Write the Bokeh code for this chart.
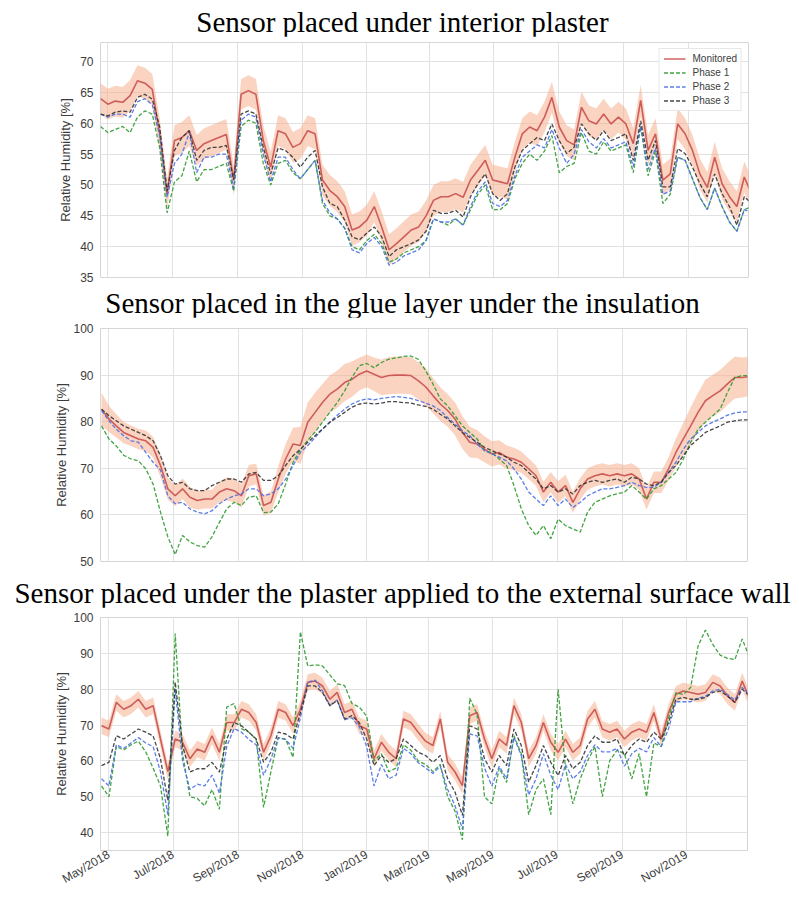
import numpy as np
import pandas as pd
from math import pi
from bokeh.plotting import figure
from bokeh.models import FixedTicker, Div, Range1d
from bokeh.layouts import column
from bokeh.embed import file_html
from bokeh.resources import INLINE

# ---------------- data ----------------
start_date = "2018-04-24"
n_samples = 89
sample_dates = pd.date_range(start_date, periods=n_samples, freq="7D")

tick_dates = ["2018-05-01", "2018-07-01", "2018-09-01", "2018-11-01", "2019-01-01",
              "2019-03-01", "2019-05-01", "2019-07-01", "2019-09-01", "2019-11-01"]
tick_labels = ["May/2018", "Jul/2018", "Sep/2018", "Nov/2018", "Jan/2019",
               "Mar/2019", "May/2019", "Jul/2019", "Sep/2019", "Nov/2019"]

titles = ["Sensor placed under interior plaster",
          "Sensor placed in the glue layer under the insulation",
          "Sensor placed under the plaster applied to the external surface wall"]
series_names = ["Monitored", "Phase 1", "Phase 2", "Phase 3"]
y_label = "Relative Humidity [%]"

p1_yticks = [35, 40, 45, 50, 55, 60, 65, 70]
p2_yticks = [50, 60, 70, 80, 90, 100]
p3_yticks = [40, 50, 60, 70, 80, 90, 100]

# Panel 1 - under interior plaster
p1_monitored = [64.0, 63.1, 63.6, 63.4, 64.5, 66.9, 66.5, 65.5, 58.3, 48.5, 57.2, 57.7, 58.8, 55.6, 56.7,
                57.2, 57.7, 58.2, 50.8, 64.7, 65.3, 64.7, 57.2, 52.9, 58.8, 58.3, 56.1, 56.7, 58.8, 58.3,
                50.8, 49.1, 48.1, 46.5, 42.7, 43.2, 44.3, 46.5, 43.2, 39.5, 40.5, 41.6, 42.7, 43.2, 45.0,
                47.5, 48.1, 48.1, 48.6, 48.0, 50.8, 52.4, 54.0, 50.8, 50.5, 50.2, 54.5, 58.3, 59.4, 58.8,
                61.0, 64.2, 59.4, 57.2, 56.5, 62.6, 60.4, 59.9, 61.5, 59.9, 61.0, 59.9, 56.7, 63.7, 55.6,
                58.3, 50.8, 51.8, 59.9, 58.3, 55.6, 51.8, 49.6, 54.5, 50.2, 48.1, 46.5, 51.3, 48.5]
p1_phase1 = [59.5, 58.5, 59.0, 59.5, 58.5, 61.0, 62.0, 61.5, 56.0, 45.5, 50.5, 51.5, 55.5, 50.5, 52.5,
             52.5, 53.0, 53.5, 49.0, 59.5, 60.5, 60.0, 53.5, 50.0, 53.5, 54.0, 52.0, 51.0, 52.5, 54.0,
             47.0, 45.0, 44.5, 43.0, 40.0, 39.5, 41.0, 42.0, 40.5, 37.5, 38.0, 39.0, 39.5, 40.0, 41.0,
             44.5, 44.0, 43.5, 44.5, 43.5, 46.0, 48.5, 50.0, 46.0, 46.0, 47.0, 51.0, 53.5, 55.0, 54.0,
             55.5, 58.0, 52.0, 53.0, 53.5, 58.5, 55.5, 55.0, 57.0, 55.5, 56.0, 56.5, 52.0, 59.5, 51.5,
             55.5, 47.0, 48.5, 54.5, 54.0, 51.0, 48.0, 46.0, 49.5, 46.5, 44.0, 42.5, 46.0, 46.5]
p1_phase2 = [61.5, 61.0, 61.5, 61.5, 61.0, 63.5, 64.0, 63.0, 58.0, 48.0, 53.5, 55.0, 58.5, 52.0, 54.5,
             54.5, 55.0, 55.0, 49.5, 60.5, 61.5, 61.0, 55.0, 50.5, 54.5, 54.5, 52.5, 51.0, 52.5, 54.0,
             47.5, 45.5, 44.5, 43.0, 39.5, 39.0, 40.5, 41.5, 40.0, 37.0, 37.5, 38.5, 39.0, 39.5, 41.0,
             44.5, 44.0, 44.0, 44.5, 43.5, 46.5, 49.0, 50.5, 47.0, 46.5, 47.5, 51.5, 54.5, 55.5, 56.5,
             56.0, 59.0, 56.0, 53.5, 55.0, 59.0, 57.0, 56.0, 57.5, 56.0, 56.5, 57.0, 53.0, 59.5, 52.5,
             56.0, 48.5, 49.0, 54.5, 54.0, 51.0, 48.0, 46.0, 49.5, 46.5, 44.0, 42.5, 46.0, 45.5]
p1_phase3 = [61.5, 61.2, 61.8, 62.0, 61.8, 64.2, 64.7, 63.9, 59.4, 49.0, 55.6, 57.7, 58.8, 54.0, 55.6,
             56.1, 56.1, 56.4, 50.8, 61.5, 62.0, 61.5, 56.1, 51.8, 56.0, 55.6, 54.5, 52.9, 54.5, 55.6,
             49.7, 47.0, 46.5, 44.3, 41.6, 41.1, 42.2, 43.2, 41.6, 38.4, 39.5, 40.0, 40.5, 41.1, 42.5,
             45.9, 45.4, 45.4, 45.9, 44.8, 48.1, 50.2, 51.8, 48.6, 47.5, 48.6, 52.9, 55.6, 56.7, 57.7,
             57.2, 59.9, 57.2, 55.1, 56.1, 59.9, 58.3, 57.2, 58.8, 57.2, 57.7, 58.3, 54.0, 60.4, 54.0,
             57.2, 49.7, 49.7, 55.9, 55.1, 52.9, 50.2, 48.1, 51.8, 48.6, 46.5, 43.5, 48.1, 47.0]
p1_band = 2.5

# Panel 2 - glue layer under the insulation
p2_monitored = [82.7, 80.6, 79.1, 77.7, 77.0, 76.3, 75.9, 74.5, 70.6, 65.6, 64.1, 65.6, 63.8, 63.1, 63.4,
                63.4, 64.9, 65.6, 65.2, 64.1, 68.4, 68.8, 62.0, 62.7, 67.7, 72.0, 75.2, 74.9, 79.9, 82.0,
                84.1, 85.9, 87.0, 88.4, 89.1, 90.2, 90.9, 90.2, 89.5, 89.9, 90.0, 90.0, 89.9, 88.8, 87.5,
                85.6, 83.8, 82.4, 80.6, 77.7, 75.6, 75.2, 74.1, 73.1, 73.4, 72.4, 72.0, 71.3, 69.9, 68.4,
                64.9, 67.0, 64.9, 66.3, 62.7, 65.6, 67.7, 68.4, 68.8, 68.4, 68.8, 68.4, 68.8, 67.7, 63.4,
                67.0, 67.0, 69.9, 73.4, 76.3, 79.1, 82.0, 84.5, 85.6, 86.6, 88.1, 89.5, 89.5, 89.7]
p2_phase1 = [79.1, 76.3, 74.8, 72.8, 72.0, 71.6, 69.9, 66.6, 60.6, 55.3, 51.5, 55.6, 54.2, 53.4, 53.1,
             55.3, 58.4, 61.3, 62.7, 62.0, 63.8, 64.1, 60.5, 60.6, 62.4, 66.6, 71.3, 74.0, 76.0, 77.8,
             79.9, 82.0, 84.1, 86.6, 89.5, 92.0, 92.5, 91.6, 92.7, 93.4, 93.7, 94.0, 94.1, 93.4, 91.0,
             88.1, 84.9, 83.4, 81.3, 79.1, 77.7, 76.3, 73.8, 73.4, 72.0, 70.6, 66.3, 61.3, 57.7, 55.6,
             57.7, 54.9, 59.1, 57.7, 57.0, 56.3, 60.6, 62.7, 63.4, 64.1, 64.5, 64.9, 66.3, 64.9, 63.4,
             65.6, 66.3, 67.7, 69.1, 72.0, 75.6, 78.4, 79.9, 81.3, 82.7, 86.3, 89.5, 89.9, 89.9]
p2_phase2 = [82.4, 80.2, 78.4, 77.0, 75.9, 75.6, 73.4, 71.3, 69.6, 64.1, 62.4, 62.7, 61.3, 60.6, 60.2,
             60.9, 62.4, 63.4, 64.1, 64.5, 65.6, 65.6, 64.1, 64.5, 65.6, 67.7, 70.6, 73.4, 74.9, 76.6,
             78.4, 79.9, 81.4, 82.7, 83.8, 84.5, 84.9, 84.7, 85.0, 85.2, 85.4, 85.2, 85.0, 84.5, 84.0,
             83.4, 82.4, 80.9, 79.5, 78.1, 77.0, 75.2, 73.8, 73.1, 72.4, 71.6, 69.9, 67.7, 64.9, 63.4,
             62.0, 64.1, 62.0, 63.4, 61.6, 62.7, 64.1, 64.9, 65.6, 65.6, 65.9, 66.3, 67.0, 66.3, 65.9,
             65.9, 67.0, 69.1, 71.3, 74.1, 76.3, 77.7, 79.1, 79.9, 80.6, 81.4, 81.9, 82.1, 82.1]
p2_phase3 = [82.7, 81.3, 80.2, 79.1, 78.4, 77.7, 77.0, 75.9, 72.7, 68.4, 66.6, 67.0, 65.6, 65.2, 65.2,
             66.3, 67.0, 67.7, 67.7, 67.0, 68.8, 69.1, 67.4, 67.4, 68.4, 70.6, 72.7, 74.1, 75.6, 77.0,
             78.4, 79.9, 80.9, 82.0, 83.1, 83.8, 84.0, 83.8, 84.0, 84.3, 84.3, 84.1, 84.0, 83.6, 83.3,
             82.7, 81.6, 80.6, 79.1, 77.7, 76.6, 75.6, 74.5, 73.8, 73.1, 72.4, 71.3, 70.6, 69.1, 67.7,
             65.6, 66.3, 64.9, 65.6, 64.5, 66.3, 67.0, 67.4, 67.0, 67.4, 67.7, 67.0, 68.1, 67.7, 66.6,
             66.3, 67.0, 69.1, 70.6, 72.7, 74.9, 76.3, 77.7, 78.4, 79.1, 79.9, 80.2, 80.4, 80.4]
p2_band = [3.5, 2.8, 2.5, 2.3, 2.2, 2.2, 2.2, 2.2, 2.5, 2.3, 2.2, 2.2, 2.2, 2.0, 2.0,
           2.0, 2.2, 2.5, 2.5, 2.5, 2.3, 2.2, 2.2, 2.3, 2.8, 3.2, 3.5, 4.0, 4.2, 4.2,
           4.0, 4.0, 4.0, 4.0, 3.8, 3.5, 3.5, 3.6, 3.8, 4.0, 4.0, 4.0, 4.0, 4.0, 4.0,
           3.8, 3.6, 3.5, 3.5, 3.5, 3.3, 3.0, 2.8, 2.7, 2.6, 2.5, 2.4, 2.3, 2.2, 2.2,
           2.2, 2.2, 2.3, 2.3, 2.3, 2.3, 2.3, 2.3, 2.3, 2.3, 2.3, 2.3, 2.3, 2.3, 2.3,
           2.3, 2.3, 2.5, 3.0, 3.5, 4.0, 4.2, 4.5, 4.5, 4.5, 4.5, 4.5, 4.3, 4.2]

# Panel 3 - under the external plaster
p3_monitored = [69.8, 68.9, 76.3, 74.4, 75.4, 77.2, 74.4, 75.4, 66.1, 57.0, 66.1, 65.2, 60.6, 63.3, 62.4,
                67.0, 62.4, 70.7, 70.7, 74.4, 73.5, 70.7, 62.4, 67.0, 74.4, 73.5, 69.8, 74.4, 81.9, 82.3,
                80.9, 77.2, 79.1, 73.5, 74.4, 69.8, 68.9, 60.6, 65.2, 62.4, 60.6, 71.7, 70.7, 68.0, 65.5,
                64.3, 71.7, 59.6, 56.9, 53.1, 72.6, 73.5, 66.1, 60.6, 66.1, 64.3, 75.4, 70.7, 60.6, 64.3,
                70.7, 65.2, 62.4, 66.1, 62.4, 64.3, 71.7, 74.4, 68.9, 68.0, 68.9, 66.1, 68.0, 68.9, 68.0,
                73.5, 66.1, 73.5, 78.6, 79.5, 79.1, 78.6, 79.1, 81.9, 80.9, 78.1, 76.3, 82.3, 77.2]
p3_phase1 = [53.0, 50.0, 64.0, 63.0, 64.5, 65.5, 62.5, 58.0, 53.0, 39.0, 95.5, 62.0, 50.0, 49.5, 47.5,
             52.0, 46.5, 75.0, 76.0, 69.0, 68.0, 66.0, 47.0, 57.0, 66.5, 66.0, 61.0, 96.0, 86.5, 86.8,
             86.5, 84.0, 81.5, 81.0, 76.0, 75.0, 72.5, 60.0, 62.0, 57.0, 58.0, 64.5, 63.0, 60.0, 59.0,
             57.0, 59.0, 50.0, 46.0, 38.0, 77.5, 73.0, 50.0, 48.0, 58.0, 54.0, 67.0, 62.0, 45.0, 52.0,
             55.0, 45.0, 80.0, 58.0, 48.0, 55.0, 60.0, 64.0, 50.0, 60.0, 63.0, 62.0, 55.0, 62.0, 50.0,
             65.0, 64.0, 72.0, 79.0, 78.5, 80.5, 92.0, 96.5, 92.5, 89.5, 88.6, 88.3, 94.0, 88.8]
p3_phase2 = [55.0, 53.0, 64.5, 63.5, 65.0, 66.5, 65.0, 64.0, 57.0, 45.0, 80.0, 60.0, 52.0, 53.5, 53.0,
             56.0, 51.0, 64.0, 69.0, 68.0, 66.0, 64.5, 56.0, 60.5, 66.5, 66.0, 63.5, 72.0, 82.0, 82.5,
             79.5, 75.5, 77.0, 71.5, 72.0, 69.5, 64.0, 53.0, 59.0, 55.0, 56.0, 63.5, 62.0, 59.5, 58.0,
             56.5, 58.5, 52.0, 47.5, 41.0, 67.5, 67.0, 58.0, 53.0, 58.5, 55.0, 66.5, 61.5, 50.5, 55.0,
             62.0, 56.0, 52.0, 59.0, 55.0, 57.0, 61.5, 64.5, 62.5, 62.5, 63.5, 58.5, 62.0, 63.5, 62.5,
             66.5, 64.0, 69.0, 76.5, 76.5, 76.5, 77.5, 78.0, 79.5, 80.0, 78.5, 77.0, 80.5, 78.5]
p3_phase3 = [58.7, 59.6, 67.0, 66.1, 67.5, 68.9, 68.0, 67.0, 60.6, 49.0, 82.0, 64.3, 56.9, 57.8, 57.8,
             59.6, 56.9, 66.1, 70.7, 69.8, 68.0, 66.1, 59.6, 62.4, 68.0, 67.5, 66.1, 73.5, 80.9, 80.9,
             79.1, 75.4, 76.8, 71.7, 72.6, 70.7, 66.1, 58.7, 61.5, 59.6, 60.6, 66.1, 64.3, 62.4, 61.5,
             59.6, 61.5, 55.0, 51.3, 44.8, 69.8, 68.9, 60.6, 56.9, 61.5, 58.7, 68.9, 64.3, 54.1, 58.7,
             64.3, 59.6, 55.9, 61.5, 57.8, 59.6, 64.3, 67.0, 65.2, 65.2, 66.1, 61.5, 64.3, 66.1, 65.2,
             68.0, 66.1, 70.7, 77.2, 77.7, 77.2, 77.2, 77.7, 79.1, 79.5, 78.1, 76.3, 80.0, 78.1]
p3_band = 2.3

# ---------------- style ----------------
RED = "#c9504f"
BAND = "#f6a883"
GREEN = "#2e9a2e"
BLUE = "#4a6fe3"
BLACK = "#333333"
GRID = "#e2e2e2"
TEXT = "#3d3d3d"
SANS = "Liberation Sans"

tick_ms = [int(pd.Timestamp(d).value // 10**6) for d in tick_dates]


def title_div(text, height, pad_top):
    html = ('<div style="font-family:\'Liberation Serif\',\'Times New Roman\',serif;'
            'font-size:29px;line-height:28px;text-align:center;white-space:nowrap;'
            'color:#000;box-sizing:border-box;width:799px;padding-left:6px;'
            'padding-top:%dpx;overflow:visible;">' % pad_top + text + '</div>')
    return Div(text=html, width=799, height=height, margin=(0, 0, 0, 0))


def panel(frame_w, left, top, bottom, height, x0, x1, ylo, yhi, yticks,
          mon, ph1, ph2, ph3, band, label_standoff, show_x, legend):
    right = 10
    p = figure(width=left + frame_w + right, height=height, x_axis_type="datetime",
               x_range=Range1d(pd.Timestamp(x0), pd.Timestamp(x1)),
               y_range=Range1d(ylo, yhi),
               output_backend="svg", toolbar_location=None,
               min_border_left=left, min_border_right=right,
               min_border_top=top, min_border_bottom=bottom)
    p.background_fill_color = "white"
    p.border_fill_color = "white"
    p.outline_line_color = "#d6d6d6"

    mon_a = np.array(mon)
    band_a = np.asarray(band)
    p.varea(x=sample_dates, y1=mon_a - band_a, y2=mon_a + band_a,
            fill_color=BAND, fill_alpha=0.5)
    specs = [(mon, RED, "solid", 1.6, series_names[0]),
             (ph1, GREEN, "4 2", 1.3, series_names[1]),
             (ph2, BLUE, "4 2", 1.3, series_names[2]),
             (ph3, BLACK, "4 2", 1.3, series_names[3])]
    for vals, col, dash, lw, name in specs:
        kw = {"legend_label": name} if legend else {}
        p.line(sample_dates, vals, line_color=col, line_dash=dash, line_width=lw,
               line_alpha=0.9, **kw)

    xt = FixedTicker(ticks=tick_ms)
    p.xaxis.ticker = xt
    p.xgrid.ticker = xt
    p.yaxis.ticker = FixedTicker(ticks=yticks)
    p.ygrid.ticker = FixedTicker(ticks=yticks)
    for g in (p.xgrid, p.ygrid):
        g.grid_line_color = GRID
        g.grid_line_width = 1

    for ax in (p.xaxis, p.yaxis):
        ax.axis_line_color = None
        ax.major_tick_line_color = None
        ax.minor_tick_line_color = None
        ax.major_tick_out = 0
        ax.major_tick_in = 0
        ax.minor_tick_out = 0
        ax.major_label_text_font = SANS
        ax.major_label_text_font_size = "12px"
        ax.major_label_text_color = TEXT

    p.yaxis.major_label_standoff = 7
    p.yaxis.axis_label = y_label
    p.yaxis.axis_label_text_font = SANS
    p.yaxis.axis_label_text_font_size = "13px"
    p.yaxis.axis_label_text_font_style = "normal"
    p.yaxis.axis_label_text_color = TEXT
    p.yaxis.axis_label_standoff = label_standoff

    if show_x:
        p.xaxis.major_label_overrides = dict(zip(tick_ms, tick_labels))
        p.xaxis.major_label_orientation = pi / 6
        p.xaxis.major_label_standoff = 3
    else:
        p.xaxis.visible = False

    if legend:
        lg = p.legend[0]
        lg.location = "top_right"
        lg.margin = 6
        lg.padding = 4
        lg.spacing = 3
        lg.label_text_font = SANS
        lg.label_text_font_size = "10px"
        lg.label_text_color = TEXT
        lg.label_height = 11
        lg.glyph_height = 11
        lg.glyph_width = 22
        lg.label_standoff = 7
        lg.border_line_color = "#cfcfcf"
        lg.background_fill_alpha = 0.85
    return p


fig1 = panel(651, 97, 6, 12, 253, "2018-04-24", "2019-12-28", 35, 73.1, p1_yticks,
             p1_monitored, p1_phase1, p1_phase2, p1_phase3, p1_band, 4, False, True)
fig2 = panel(647, 100, 11, 18, 262, "2018-04-23", "2019-12-29", 50, 100, p2_yticks,
             p2_monitored, p2_phase1, p2_phase2, p2_phase3, p2_band, 1, False, False)
fig3 = panel(647, 100, 10, 46, 289, "2018-04-23", "2019-12-29", 35, 100, p3_yticks,
             p3_monitored, p3_phase1, p3_phase2, p3_phase3, p3_band, 1, True, False)

layout = column(title_div(titles[0], 36, 8), fig1,
                title_div(titles[1], 28, 0), fig2,
                title_div(titles[2], 28, 0), fig3)

open("out.html", "w").write(file_html(layout, INLINE))
